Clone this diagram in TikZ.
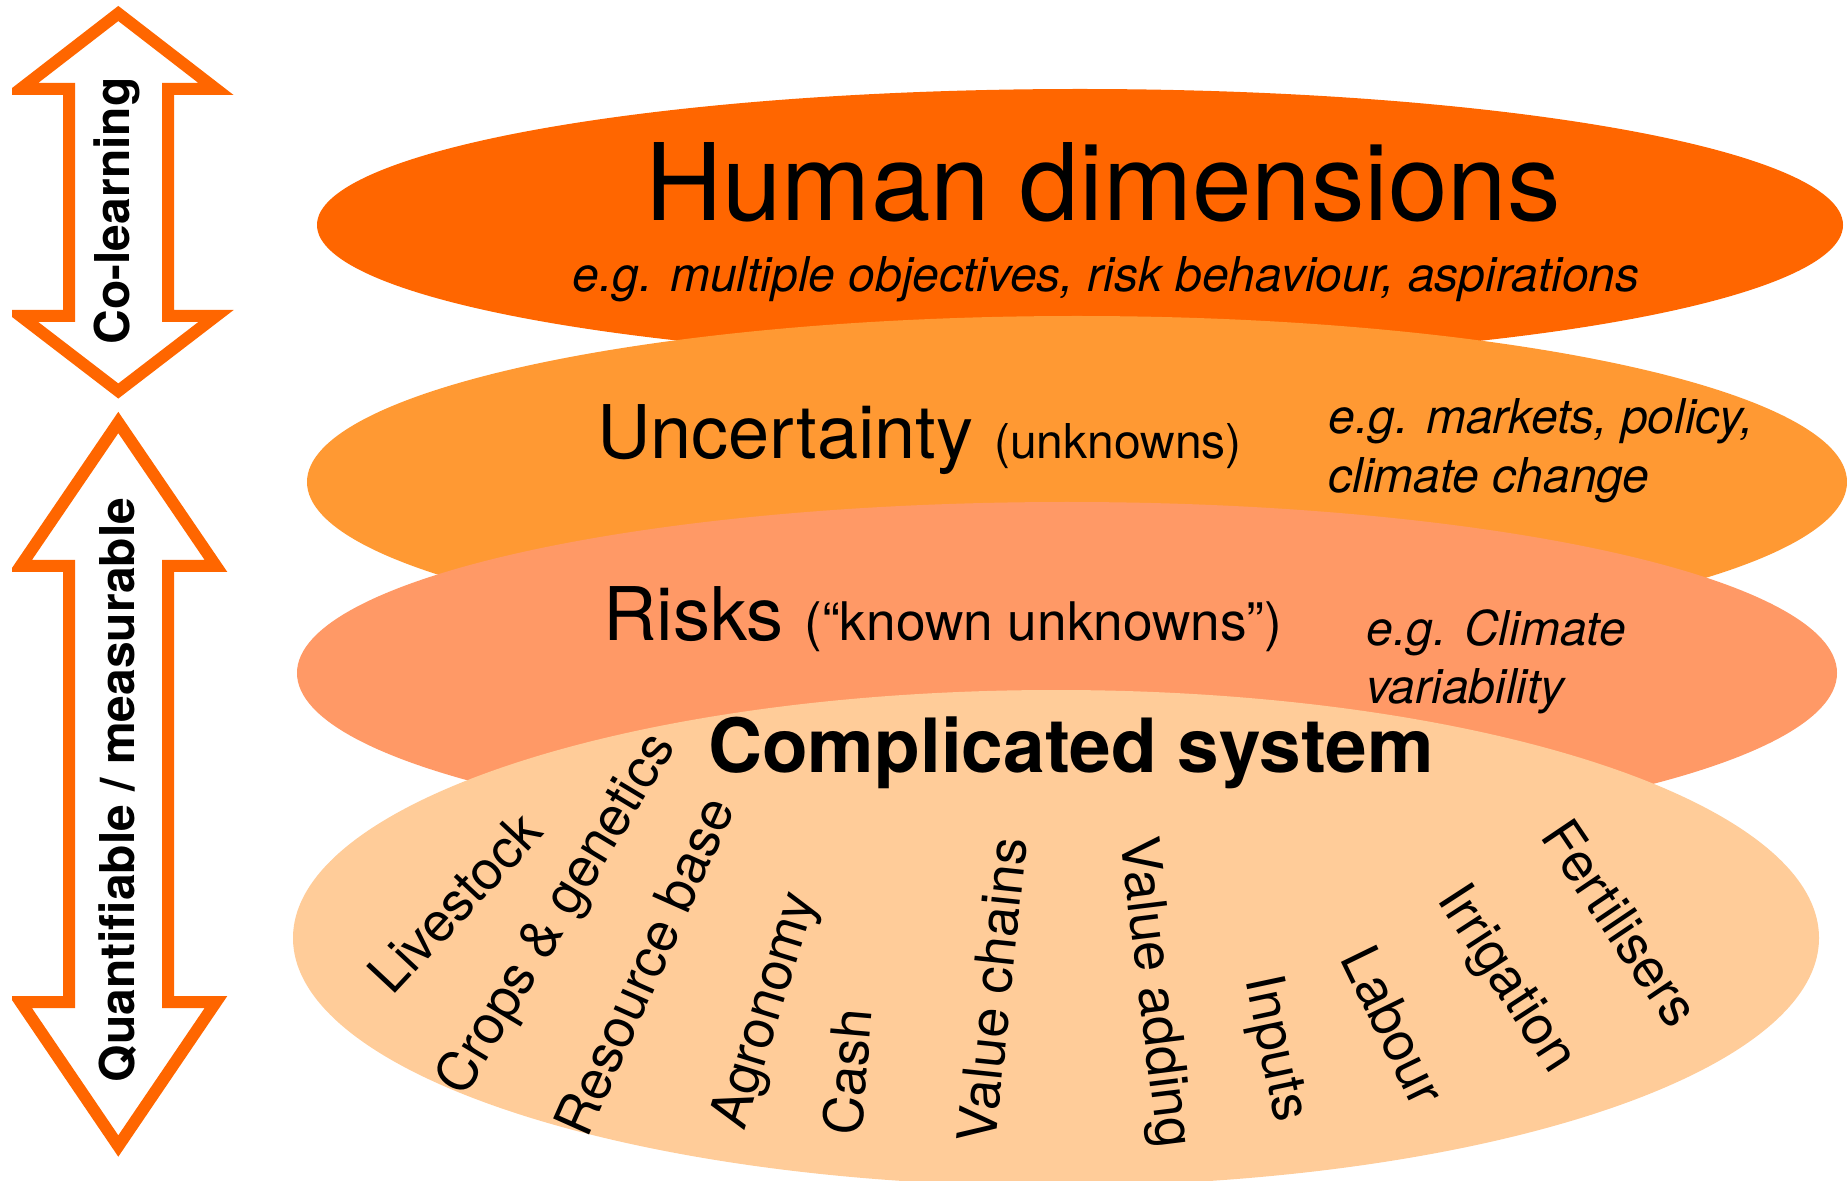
\documentclass[tikz,border=0pt]{standalone}
\usepackage{fontspec}
\setmainfont{TeX Gyre Heros}
\newcommand\myfs[1]{\fontsize{#1}{#1}\selectfont}
\definecolor{humanc}{HTML}{FF6600}
\definecolor{uncertc}{HTML}{FF9933}
\definecolor{riskc}{HTML}{FF9966}
\definecolor{complc}{HTML}{FFCC99}
\definecolor{arrowc}{HTML}{FF6600}
\begin{document}
\begin{tikzpicture}[x=0.5pt,y=-0.5pt,
  blockarrow/.style={draw=arrowc, line width=6pt, fill=white, line join=miter},
  arrowtext/.style={font=\bfseries\myfs{24}, rotate=90, anchor=base, inner sep=0pt},
  word/.style={font=\myfs{27}, inner sep=0pt, anchor=center},
  egtext/.style={font=\itshape\myfs{24}, inner sep=0pt, anchor=base west},
  title/.style={inner sep=0pt}]
\useasboundingbox (0,0) rectangle (1847,1181);
\clip (0,0) rectangle (1847,1181);
% layered ellipses
\fill[humanc] (1080,225) ellipse [x radius=381.5pt, y radius=68pt];
\fill[uncertc] (1077,482) ellipse [x radius=385pt, y radius=83pt];
\fill[riskc] (1067,673) ellipse [x radius=385pt, y radius=85.5pt];
\fill[complc] (1056,938) ellipse [x radius=381.5pt, y radius=124pt];
% block arrows
\begin{scope}
\clip (12,0) rectangle (400,1181);
\draw[blockarrow] (118.3,13.5) -- (216,89) -- (168,89) -- (168,316) -- (216,316) -- (118.3,391) -- (20.6,316) -- (69,316) -- (69,89) -- (20.6,89) -- cycle;
\draw[blockarrow] (118.3,422.5) -- (216,566) -- (168,566) -- (168,1002) -- (216,1002) -- (118.3,1146) -- (20.6,1002) -- (69,1002) -- (69,566) -- (20.6,566) -- cycle;
\end{scope}
\node[arrowtext] (colearn) at (129,211) {Co-learning};
\node[arrowtext] (quant) at (134,790) {Quantifiable / measurable};
% human dimensions
\node[title, anchor=base, font=\myfs{53.5}] (human) at (1103,221) {Human dimensions};
\node[title, anchor=base, font=\itshape\myfs{24}] (humaneg) at (1106,292) {e.g. multiple objectives, risk behaviour, aspirations};
% uncertainty
\node[title, anchor=base west, font=\myfs{37}] (uncert) at (597,459) {Uncertainty {\myfs{24}(unknowns)}};
\node[egtext] (uncerteg1) at (1328,434) {e.g. markets, policy,};
\node[egtext] (uncerteg2) at (1328,493) {climate change};
% risks
\node[title, anchor=base west, font=\myfs{37}] (risks) at (603,640) {Risks {\myfs{26.6}(“known unknowns”)}};
\node[egtext] (riskeg1) at (1366,646) {e.g. Climate};
\node[egtext] (riskeg2) at (1366,704) {variability};
% complicated system
\node[title, anchor=base, font=\bfseries\myfs{37.4}] (compl) at (1071,772) {Complicated system};
\node[word, rotate=47] (livestock) at (455,902) {Livestock};
\node[word, rotate=59] (crops) at (558,915) {Crops \& genetics};
\node[word, rotate=66] (resource) at (644,966) {Resource base};
\node[word, rotate=73] (agronomy) at (767,1011) {Agronomy};
\node[word, rotate=85] (cash) at (847,1072) {Cash};
\node[word, rotate=84] (valuechains) at (992,990) {Value chains};
\node[word, rotate=-83] (valueadding) at (1153,993) {Value adding};
\node[word, rotate=-78] (inputs) at (1274,1049) {Inputs};
\node[word, rotate=-64] (labour) at (1394,1026) {Labour};
\node[word, rotate=-57] (irrigation) at (1505,980) {Irrigation};
\node[word, rotate=-56] (fertilisers) at (1621,923) {Fertilisers};
\end{tikzpicture}
\end{document}
